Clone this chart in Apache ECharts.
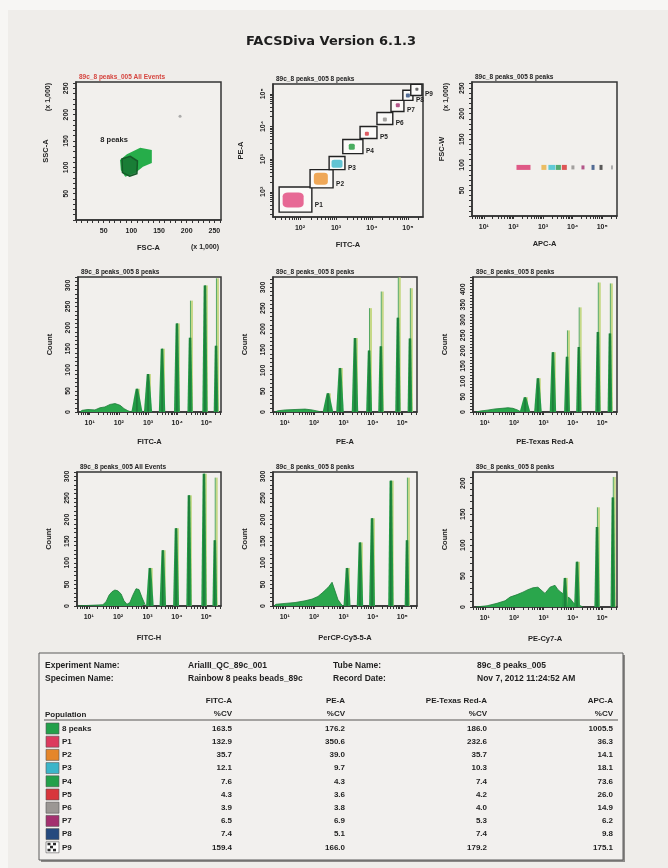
<!DOCTYPE html>
<html><head><meta charset="utf-8">
<script src="https://cdn.jsdelivr.net/npm/echarts@6.0.0/dist/echarts.min.js"></script>
<style>html,body{margin:0;padding:0;background:#efedea;}#c{width:668px;height:868px;}</style>
</head><body><div id="c"></div>
<script>
// ================= DATA =================
const pageTitle = 'FACSDiva Version 6.1.3';
const plotTitles = ['89c_8 peaks_005 All Events','89c_8 peaks_005 8 peaks','89c_8 peaks_005 8 peaks',
  '89c_8 peaks_005 8 peaks','89c_8 peaks_005 8 peaks','89c_8 peaks_005 8 peaks',
  '89c_8 peaks_005 All Events','89c_8 peaks_005 8 peaks','89c_8 peaks_005 8 peaks'];
const xAxisNames = ['FSC-A','FITC-A','APC-A','FITC-A','PE-A','PE-Texas Red-A','FITC-H','PerCP-Cy5-5-A','PE-Cy7-A'];
const yAxisNames = ['SSC-A','PE-A','FSC-W','Count','Count','Count','Count','Count','Count'];
const scaleNote = '(x 1,000)';
const linTickValues = [50,100,150,200,250];
const decadeTickValues = [1,2,3,4,5];
const decadeTickLabels = ['10¹','10²','10³','10⁴','10⁵'];
const countTicks300 = [0,50,100,150,200,250,300];
const countTicks400 = [0,50,100,150,200,250,300,350,400];
const countTicks200 = [0,50,100,150,200];

// Plot 1: FSC-A vs SSC-A (x 1,000)
const p1BlobX = [79.5,92,116,137,137,121,107,89,81];
const p1BlobY = [114,125,137,133,108,101,89,82,95];
const p1GateX = [83,98,111,110,97,84];
const p1GateY = [116,121,112,88,83,90];
const p1GateName = '8 peaks';
const p1GateLabelPos = [44,152];
const p1DebrisX = [188];
const p1DebrisY = [197];

// Plot 2: FITC-A vs PE-A (decades), gates
const p2GateNames = ['P1','P2','P3','P4','P5','P6','P7','P8','P9'];
const p2GateX1 = [1.42,2.28,2.81,3.19,3.67,4.14,4.53,4.86,5.08];
const p2GateX2 = [2.33,2.92,3.25,3.75,4.14,4.58,4.89,5.14,5.39];
const p2GateY1 = [1.38,2.12,2.68,3.17,3.63,4.06,4.46,4.80,4.95];
const p2GateY2 = [2.15,2.68,3.08,3.60,4.00,4.43,4.80,5.11,5.29];
const p2PopX = [1.81,2.58,3.03,3.44,3.86,4.36,4.72,5.00,5.25];
const p2PopY = [1.75,2.40,2.86,3.38,3.78,4.21,4.65,4.95,5.14];

// Plot 3: APC-A (decades) vs FSC-W (x 1,000)
const p3PopX = [2.34,3.03,3.30,3.52,3.72,4.01,4.35,4.69,4.96,5.33];
const p3PopY = [95,95,95,95,95,95,95,95,95,95];

// Histograms: continuum [decade, count] and peaks [decade, dark height, full height, half width]
const h1Base = [[0.67,0],[0.74,4],[0.94,6],[1.18,5],[1.35,10],[1.52,12],[1.70,18],[1.87,20],[2.04,16],[2.18,8],[2.31,3],[2.42,0]];
const h1Peaks = [[2.62,55,55,0.19],[3.00,90,90,0.14],[3.48,150,150,0.11],[3.99,210,210,0.1],[4.44,176,264,0.09],[4.95,300,300,0.09],[5.33,157,317,0.08]];
const h2Base = [[0.67,0],[0.77,3],[1.01,5],[1.35,6],[1.69,7],[1.93,5],[2.13,2],[2.23,0]];
const h2Peaks = [[2.47,45,45,0.18],[2.88,106,106,0.13],[3.39,178,178,0.11],[3.87,148,250,0.1],[4.27,158,290,0.09],[4.85,227,324,0.09],[5.26,177,298,0.08]];
const h3Base = [[0.70,0],[0.84,3],[1.08,6],[1.35,10],[1.59,12],[1.79,14],[1.96,12],[2.13,6],[2.23,0]];
const h3Peaks = [[2.37,48,48,0.18],[2.81,110,110,0.13],[3.32,195,195,0.11],[3.80,180,266,0.1],[4.20,212,341,0.09],[4.85,261,422,0.09],[5.26,256,419,0.08]];
const h4Base = [[0.63,0],[0.87,1],[1.21,2],[1.48,3],[1.59,10],[1.69,25],[1.79,33],[1.89,37],[1.99,35],[2.10,28],[2.20,12],[2.30,4],[2.40,8],[2.50,25],[2.61,40],[2.71,38],[2.81,20],[2.91,4],[2.95,0]];
const h4Peaks = [[3.08,88,88,0.13],[3.52,129,129,0.11],[3.97,180,180,0.1],[4.41,256,256,0.09],[4.92,306,306,0.09],[5.29,152,297,0.08]];
const h5Base = [[0.63,0],[0.70,4],[1.01,6],[1.35,8],[1.69,12],[1.93,16],[2.13,22],[2.27,30],[2.40,38],[2.50,45],[2.61,55],[2.71,35],[2.81,15],[2.91,5],[2.98,0]];
const h5Peaks = [[3.12,88,88,0.12],[3.56,147,147,0.11],[3.97,203,203,0.1],[4.61,290,290,0.09],[5.16,152,297,0.08]];
const h6Base = [[0.70,0],[1.08,2],[1.42,6],[1.69,10],[1.86,16],[2.10,20],[2.30,24],[2.47,28],[2.64,31],[2.81,32],[2.95,26],[3.05,22],[3.22,32],[3.39,35],[3.49,28],[3.59,24],[3.76,18],[3.90,14],[4.03,6],[4.17,4],[4.34,0]];
const h6Peaks = [[3.73,47,47,0.1],[4.14,73,73,0.1],[4.82,129,161,0.09],[5.36,177,210,0.08]];

// Table
const tableHeaderLabels = ['Experiment Name:','Specimen Name:','Tube Name:','Record Date:'];
const tableHeaderValues = ['AriaIII_QC_89c_001','Rainbow 8 peaks beads_89c','89c_8 peaks_005','Nov 7, 2012 11:24:52 AM'];
const tableColumns = ['FITC-A','PE-A','PE-Texas Red-A','APC-A'];
const statName = '%CV';
const popHeader = 'Population';
const popNames = ['8 peaks','P1','P2','P3','P4','P5','P6','P7','P8','P9'];
const cvFITC = [163.5,132.9,35.7,12.1,7.6,4.3,3.9,6.5,7.4,159.4];
const cvPE   = [176.2,350.6,39.0,9.7,4.3,3.6,3.8,6.9,5.1,166.0];
const cvPETR = [186.0,232.6,35.7,10.3,7.4,4.2,4.0,5.3,7.4,179.2];
const cvAPC  = [1005.5,36.3,14.1,18.1,73.6,26.0,14.9,6.2,9.8,175.1];

// ================= STYLE / LAYOUT =================
const FONT = 'Liberation Sans';
const INK = '#232323';
const grids = [
  [76,82,145,138],[273,84,150,133],[472,82,145,134],
  [78,277,143,135],[273,277,144,135],[473,277,144,135],
  [77,472,144,134],[273,472,144,134],[473,472,144,135]
];
const popColors = ['#23a04a','#dc3a5e','#e5862a','#3cb5c9','#23a04a','#d8363c','#9b9794','#a3306f','#25497e','#ffffff'];
const p2PopColors = ['#e2457c','#ec9330','#3cb7c9','#1e9a3a','#d8343c','#8e8c8a','#a3306f','#2b4b7e','#444444'];
const p2PopSizes = [[21,15],[14,12],[11,8],[6,6],[4,4],[4,4],[4,4],[4,4],[3,3]];
const p3PopColors = ['#d9336c','#e8b040','#3cc0d0','#2a9a50','#d83030','#8e8c8a','#a3306f','#2b4b7e','#333333','#9a9a9a'];
const p3PopSizes = [[14,5],[5,5],[7,5],[5,5],[5,5],[3,4],[3,4],[3,5],[3,5],[2,4]];

const linMinor = []; for (let v = 0; v <= 260; v += 10) linMinor.push(v);
const decMinor = []; for (let d = 0; d <= 5; d++) for (let k = 1; k <= 9; k++) decMinor.push(d + Math.log10(k));

const labelStyle = {fontSize:7, fontWeight:'bold', color:INK, fontFamily:FONT};
const nameStyle = {fontSize:7.5, fontWeight:'bold', color:INK, fontFamily:FONT};
const decFmt = v => decadeTickLabels[decadeTickValues.indexOf(Math.round(v))] || '';

function axis(gi, min, max, major, minor, fmt, name, nameGap, margin, isY) {
  return {
    type:'value', gridIndex:gi, min, max,
    name, nameLocation:'middle', nameGap, nameRotate: isY ? 90 : 0, nameTextStyle:nameStyle,
    axisLine:{show:true, onZero:false, lineStyle:{color:'#333', width:1.5}},
    axisTick:{show:true, customValues: minor.filter(v => v >= min && v <= max), length:3, lineStyle:{color:'#333', width:1}},
    axisLabel:Object.assign({show:true, customValues: major, formatter: fmt, margin, rotate: isY ? 90 : 0}, labelStyle),
    splitLine:{show:false}
  };
}
const intFmt = v => String(v);

const xAxes = [
  axis(0, 0, 262, linTickValues, linMinor, intFmt, xAxisNames[0], 24, 8, false),
  axis(1, 1.25, 5.42, [2,3,4,5], decMinor, decFmt, xAxisNames[1], 24, 8, false),
  axis(2, 0.6, 5.5, decadeTickValues, decMinor, decFmt, xAxisNames[2], 24, 8, false),
  axis(3, 0.6, 5.5, decadeTickValues, decMinor, decFmt, xAxisNames[3], 26, 8, false),
  axis(4, 0.6, 5.5, decadeTickValues, decMinor, decFmt, xAxisNames[4], 26, 8, false),
  axis(5, 0.6, 5.5, decadeTickValues, decMinor, decFmt, xAxisNames[5], 26, 8, false),
  axis(6, 0.6, 5.5, decadeTickValues, decMinor, decFmt, xAxisNames[6], 28, 8, false),
  axis(7, 0.6, 5.5, decadeTickValues, decMinor, decFmt, xAxisNames[7], 28, 8, false),
  axis(8, 0.6, 5.5, decadeTickValues, decMinor, decFmt, xAxisNames[8], 28, 8, false)
];
const cMinor = m => { const a = []; for (let v = 0; v <= m; v += 10) a.push(v); return a; };
const yAxes = [
  axis(0, 0, 262, linTickValues, linMinor, intFmt, yAxisNames[0], 26, 6, true),
  axis(1, 1.23, 5.3, [2,3,4,5], decMinor, decFmt, yAxisNames[1], 28, 6, true),
  axis(2, 0, 262, linTickValues, linMinor, intFmt, yAxisNames[2], 26, 6, true),
  axis(3, 0, 320, countTicks300, cMinor(320), intFmt, yAxisNames[3], 24, 6, true),
  axis(4, 0, 325, countTicks300, cMinor(325), intFmt, yAxisNames[4], 24, 6, true),
  axis(5, 0, 440, countTicks400, cMinor(440), intFmt, yAxisNames[5], 24, 6, true),
  axis(6, 0, 310, countTicks300, cMinor(310), intFmt, yAxisNames[6], 24, 6, true),
  axis(7, 0, 310, countTicks300, cMinor(310), intFmt, yAxisNames[7], 24, 6, true),
  axis(8, 0, 218, countTicks200, cMinor(218), intFmt, yAxisNames[8], 24, 6, true)
];

function polySeries(gi, xs, ys, style, z) {
  return {type:'custom', xAxisIndex:gi, yAxisIndex:gi, z: z || 2, clip:true,
    data:[[xs[0], ys[0]]],
    renderItem:(p, api) => ({type:'polygon', shape:{points: xs.map((x, i) => api.coord([x, ys[i]]))}, style})};
}

function spikeRender(p, api) {
  const x = api.value(0), h = api.value(1), top = api.value(2), hw = api.value(3);
  const pL = api.coord([x - hw, 0]), pR = api.coord([x + hw, 0]);
  const pA = api.coord([x, h]), pT = api.coord([x, top]), p0 = api.coord([x, 0]);
  return {type:'group', children:[
    {type:'line', shape:{x1:p0[0] + 1.9, y1:p0[1], x2:pT[0] + 1.9, y2:pT[1]}, style:{stroke:'#c6d886', lineWidth:2}},
    {type:'line', shape:{x1:p0[0] + 0.4, y1:p0[1], x2:pT[0] + 0.4, y2:pT[1]}, style:{stroke:'#55a862', lineWidth:1}},
    {type:'polygon', shape:{points:[pL, [pA[0] - 1.3, pA[1]], [pA[0] + 1.3, pA[1]], pR]}, style:{fill:'#239a46'}},
    {type:'line', shape:{x1:p0[0], y1:p0[1], x2:pA[0], y2:pA[1]}, style:{stroke:'#1b6a33', lineWidth:1}}
  ]};
}
function histSeries(gi, base, peaks) {
  return [
    {type:'line', xAxisIndex:gi, yAxisIndex:gi, data:base, symbol:'none', smooth:false,
      lineStyle:{color:'#1d7d38', width:0.8}, areaStyle:{color:'#2aa64c', opacity:1}, z:2},
    {type:'custom', xAxisIndex:gi, yAxisIndex:gi, data:peaks, renderItem:spikeRender, clip:true, z:3}
  ];
}

const series = [
  // plot 1
  polySeries(0, p1BlobX, p1BlobY, {fill:'#26ad4a'}, 2),
  polySeries(0, p1GateX, p1GateY, {fill:'rgba(22,110,48,0.75)', stroke:'#155a28', lineWidth:1.5}, 3),
  {type:'scatter', xAxisIndex:0, yAxisIndex:0, data:p1DebrisX.map((x, i) => [x, p1DebrisY[i]]),
    symbol:'circle', symbolSize:3, itemStyle:{color:'#9a9a9a'}, z:3},
  {type:'custom', xAxisIndex:0, yAxisIndex:0, data:[p1GateLabelPos], z:4,
    renderItem:(p, api) => { const c = api.coord([api.value(0), api.value(1)]);
      return {type:'text', style:{text:p1GateName, x:c[0], y:c[1], fontSize:7.5, fontWeight:'bold', fontFamily:FONT, fill:INK, verticalAlign:'middle'}}; }},
  // plot 2 gates
  {type:'custom', xAxisIndex:1, yAxisIndex:1, z:2, clip:false,
    data:p2GateNames.map((n, i) => [p2GateX1[i], p2GateY1[i], p2GateX2[i], p2GateY2[i]]),
    renderItem:(p, api) => {
      const a = api.coord([api.value(0), api.value(3)]), b = api.coord([api.value(2), api.value(1)]);
      const h = b[1] - a[1];
      return {type:'group', children:[
        {type:'rect', shape:{x:a[0], y:a[1], width:b[0] - a[0], height:h}, style:{fill:'#fbfaf8', stroke:'#222', lineWidth:1.4}},
        {type:'text', style:{text:p2GateNames[p.dataIndex], x:b[0] + 3, y:b[1] - h * 0.4, fontSize:6.5, fontWeight:'bold', fontFamily:FONT, fill:INK, verticalAlign:'top'}}
      ]};
    }},
  {type:'scatter', xAxisIndex:1, yAxisIndex:1, z:4,
    data:p2PopX.map((x, i) => ({value:[x, p2PopY[i]], symbolSize:p2PopSizes[i], itemStyle:{color:p2PopColors[i]}})),
    symbol:'roundRect'},
  // plot 3
  {type:'scatter', xAxisIndex:2, yAxisIndex:2, z:4,
    data:p3PopX.map((x, i) => ({value:[x, p3PopY[i]], symbolSize:p3PopSizes[i], itemStyle:{color:p3PopColors[i]}})),
    symbol:'rect'},
  ...histSeries(3, h1Base, h1Peaks),
  ...histSeries(4, h2Base, h2Peaks),
  ...histSeries(5, h3Base, h3Peaks),
  ...histSeries(6, h4Base, h4Peaks),
  ...histSeries(7, h5Base, h5Peaks),
  ...histSeries(8, h6Base, h6Peaks)
];

// ---------- graphics: page, titles, table ----------
const g = [];
g.push({type:'rect', shape:{x:0, y:0, width:668, height:10}, style:{fill:'#f7f6f4'}, z:-10, silent:true});
g.push({type:'rect', shape:{x:0, y:0, width:8, height:868}, style:{fill:'#f7f6f4'}, z:-10, silent:true});
g.push({type:'text', x:331, y:42, style:{text:pageTitle, font:'bold 13px "DejaVu Sans"', fill:'#1e1e1e', align:'center', verticalAlign:'middle'}, z:10});
grids.forEach((gr, i) => {
  g.push({type:'text', x:gr[0] + 3, y:gr[1] - 5, style:{text:plotTitles[i], font:'bold 6.5px "Liberation Sans"', fill: i === 0 ? '#d5453f' : INK, verticalAlign:'middle'}, z:10});
});
// (x 1,000) notes
g.push({type:'text', x:205, y:247, style:{text:scaleNote, font:'bold 7px "Liberation Sans"', fill:INK, align:'center', verticalAlign:'middle'}, z:10});
g.push({type:'text', x:48, y:97, rotation:Math.PI / 2, style:{text:scaleNote, font:'bold 7px "Liberation Sans"', fill:INK, align:'center', verticalAlign:'middle'}, z:10});
g.push({type:'text', x:446, y:97, rotation:Math.PI / 2, style:{text:scaleNote, font:'bold 7px "Liberation Sans"', fill:INK, align:'center', verticalAlign:'middle'}, z:10});

// table
const TX = 39, TY = 653, TW = 584, TH = 207;
g.push({type:'rect', shape:{x:TX + 2, y:TY + 2, width:TW, height:TH}, style:{fill:'#8c8a88'}, z:1});
g.push({type:'rect', shape:{x:TX, y:TY, width:TW, height:TH}, style:{fill:'#f2f0ee', stroke:'#5a5a5a', lineWidth:1}, z:2});
const tFont = 'bold 8px "Liberation Sans"';
const tFontH = 'bold 8.5px "Liberation Sans"';
const txt = (s, x, y, align, font) => g.push({type:'text', x, y, style:{text:s, font: font || tFont, fill:'#1f1f1f', align: align || 'left', verticalAlign:'middle'}, z:5});
txt(tableHeaderLabels[0], 45, 666, 'left', tFontH);
txt(tableHeaderLabels[1], 45, 679, 'left', tFontH);
txt(tableHeaderValues[0], 188, 666, 'left', tFontH);
txt(tableHeaderValues[1], 188, 679, 'left', tFontH);
txt(tableHeaderLabels[2], 333, 666, 'left', tFontH);
txt(tableHeaderLabels[3], 333, 679, 'left', tFontH);
txt(tableHeaderValues[2], 477, 666, 'left', tFontH);
txt(tableHeaderValues[3], 477, 679, 'left', tFontH);
const colRight = [232, 345, 487, 613];
tableColumns.forEach((c, i) => { txt(c, colRight[i], 701, 'right'); txt(statName, colRight[i], 714, 'right'); });
txt(popHeader, 45, 715);
g.push({type:'line', shape:{x1:44, y1:720, x2:618, y2:720}, style:{stroke:'#8a8886', lineWidth:1.5}, z:5});
const cols = [cvFITC, cvPE, cvPETR, cvAPC];
popNames.forEach((n, r) => {
  const y = 728.5 + r * 13.2;
  g.push({type:'rect', shape:{x:46, y:y - 5.5, width:13, height:11}, style:{fill:popColors[r], stroke:'#555', lineWidth:0.6}, z:5});
  if (r === popNames.length - 1) {
    [[47.5,y-4.5],[53,y-4.5],[50,y-1.5],[47.5,y+1.5],[53,y+1.5]].forEach(pt =>
      g.push({type:'rect', shape:{x:pt[0], y:pt[1], width:3, height:2.5}, style:{fill:'#2b2b2b'}, z:6}));
  }
  txt(n, 62, y);
  cols.forEach((arr, c) => txt(arr[r].toFixed(1), colRight[c], y, 'right'));
});

const chart = echarts.init(document.getElementById('c'), null, {width:668, height:868});
chart.setOption({
  backgroundColor:'#efedea',
  animation:false,
  grid: grids.map(gr => ({left:gr[0], top:gr[1], width:gr[2], height:gr[3], show:true,
    backgroundColor:'#f2f0ed', borderColor:'#353535', borderWidth:1.5, containLabel:false})),
  xAxis: xAxes,
  yAxis: yAxes,
  series,
  graphic: g
});
</script>
</body></html>
